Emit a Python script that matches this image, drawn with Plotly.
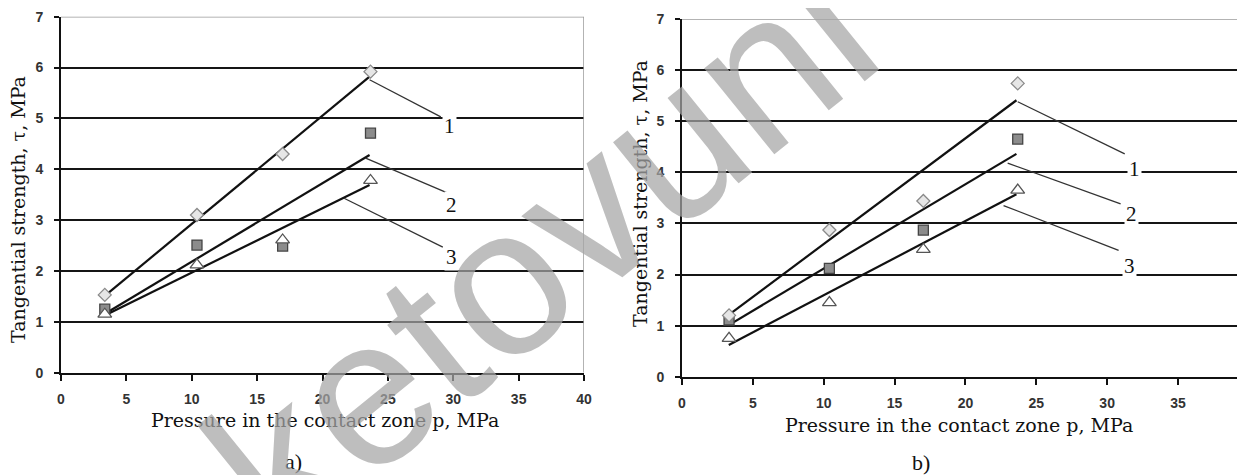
import glob
import plotly.graph_objects as go

W, H = 1245, 475
OFF = 8  # the page body adds an 8 px margin around the figure

# ---------------- data ----------------
# panel a)
a_p = [3.35, 10.4, 16.95, 23.67]
a_tau1 = [1.53, 3.10, 4.30, 5.92]   # diamonds
a_tau2 = [1.25, 2.51, 2.49, 4.71]   # squares
a_tau3 = [1.15, 2.12, 2.61, 3.78]   # triangles
a_fit_x = [3.3, 23.6]
a_fit1 = [1.50, 5.82]
a_fit2 = [1.15, 4.28]
a_fit3 = [1.12, 3.69]

# panel b)
b_p = [3.32, 10.4, 17.03, 23.69]
b_tau1 = [1.20, 2.87, 3.44, 5.74]
b_tau2 = [1.11, 2.12, 2.87, 4.65]
b_tau3 = [0.75, 1.45, 2.49, 3.65]
b_fit_x = [3.3, 23.6]
b_fit1 = [1.21, 5.41]
b_fit2 = [1.01, 4.36]
b_fit3 = [0.62, 3.57]

# curve labels (number, leader start, leader end, label position)
a_labels = ["1", "2", "3"]
a_lead_x0 = [23.6, 23.3, 21.65]
a_lead_y0 = [5.76, 4.22, 3.43]
a_lead_x1 = [29.05, 29.5, 29.2]
a_lead_y1 = [5.03, 3.54, 2.47]
a_lab_x = [29.7, 29.85, 29.85]
a_lab_y = [4.86, 3.3, 2.27]

b_labels = ["1", "2", "3"]
b_lead_x0 = [23.69, 22.98, 22.69]
b_lead_y0 = [5.38, 4.18, 3.35]
b_lead_x1 = [31.24, 30.95, 30.81]
b_lead_y1 = [4.36, 3.38, 2.47]
b_lab_x = [31.95, 31.75, 31.58]
b_lab_y = [4.06, 3.18, 2.17]

y_ticks = [0, 1, 2, 3, 4, 5, 6, 7]
x_ticks = [0, 5, 10, 15, 20, 25, 30, 35, 40]

x_title = "Pressure in the contact zone p, MPa"
y_title = "Tangential strength, \u03c4, MPa"
panel_names = ["a)", "b)"]
watermark = "ketovuni"

SERIF = "Liberation Serif, Times New Roman, serif"
WSERIF = "DejaVu Serif, serif"
SANS = "Liberation Sans, Arial, sans-serif"

# watermark font: a narrow sans if available, otherwise a smaller regular sans
if glob.glob("/usr/share/fonts/**/LiberationSansNarrow*", recursive=True):
    WM_FONT, WM_SIZE = "Liberation Sans Narrow", 250
else:
    WM_FONT, WM_SIZE = "Liberation Sans", 210

fig = go.Figure()

diamond = dict(symbol="diamond", size=10, color="#e6e6e6", line=dict(color="#8a8a8a", width=1.3))
square = dict(symbol="square", size=10, color="#8c8c8c", line=dict(color="#444444", width=1.3))
triangle = dict(symbol="triangle-up", size=12, color="white", line=dict(color="#555555", width=1.3))


def add_panel(xa, ya, px, t1, t2, t3, fx, f1, f2, f3, lx0, ly0, lx1, ly1):
    for fy in (f1, f2, f3):
        fig.add_trace(go.Scatter(x=fx, y=fy, mode="lines", xaxis=xa, yaxis=ya,
                                 line=dict(color="#111111", width=2.2), showlegend=False,
                                 hoverinfo="skip"))
    for i in range(len(lx0)):
        fig.add_trace(go.Scatter(x=[lx0[i], lx1[i]], y=[ly0[i], ly1[i]], mode="lines",
                                 xaxis=xa, yaxis=ya, line=dict(color="#333333", width=1.3),
                                 showlegend=False, hoverinfo="skip"))
    fig.add_trace(go.Scatter(x=px, y=t2, mode="markers", xaxis=xa, yaxis=ya, marker=square, showlegend=False))
    fig.add_trace(go.Scatter(x=px, y=t1, mode="markers", xaxis=xa, yaxis=ya, marker=diamond, showlegend=False))
    fig.add_trace(go.Scatter(x=px, y=t3, mode="markers", xaxis=xa, yaxis=ya, marker=triangle, showlegend=False))


add_panel("x", "y", a_p, a_tau1, a_tau2, a_tau3, a_fit_x, a_fit1, a_fit2, a_fit3,
          a_lead_x0, a_lead_y0, a_lead_x1, a_lead_y1)
add_panel("x2", "y2", b_p, b_tau1, b_tau2, b_tau3, b_fit_x, b_fit1, b_fit2, b_fit3,
          b_lead_x0, b_lead_y0, b_lead_x1, b_lead_y1)


def fx(sx):  # screen x -> paper
    return (sx - OFF) / W


def fy(sy):  # screen y -> paper
    return 1 - (sy - OFF) / H


# screen geometry of the two plot areas
a_x0, a_x1, a_y0, a_y1 = 61, 584, 372.7, 16.7
b_x0, b_x35, b_y0, b_y1 = 682, 1178, 376.7, 19.0
b_xmax = 35 * (W + OFF - b_x0) / (b_x35 - b_x0)

tick_text_x = ["<b>%d</b>" % v for v in x_ticks]
tick_text_y = ["<b>%d</b>" % v for v in y_ticks]
TICKFONT = dict(family=SANS, size=14, color="#333333")


def xaxis_cfg(x0, x1, rng, anchor):
    return dict(domain=[fx(x0), min(fx(x1), 1.0)], range=rng, tickvals=x_ticks, ticktext=tick_text_x,
                showgrid=False, zeroline=False, showline=True, linecolor="#111111", linewidth=2,
                ticks="outside", ticklen=6, tickwidth=2, tickcolor="#111111", anchor=anchor,
                tickfont=TICKFONT, automargin=False, ticklabeloverflow="allow",
                ticklabelstandoff=6, fixedrange=True)


def yaxis_cfg(y0, y1, anchor):
    return dict(domain=[fy(y0), fy(y1)], range=[0, 7], tickvals=y_ticks, ticktext=tick_text_y,
                showgrid=True, gridcolor="#151515", gridwidth=2, zeroline=False,
                showline=True, linecolor="#111111", linewidth=2, anchor=anchor,
                ticks="outside", ticklen=5, tickwidth=2, tickcolor="#111111", automargin=False,
                tickfont=TICKFONT, ticklabelstandoff=8, fixedrange=True)


fig.update_layout(
    template="none",
    width=W, height=H, margin=dict(l=0, r=0, t=0, b=0, autoexpand=False),
    paper_bgcolor="white", plot_bgcolor="white", showlegend=False,
    xaxis=xaxis_cfg(a_x0, a_x1, [0, 40], "y"),
    yaxis=yaxis_cfg(a_y0, a_y1, "x"),
    xaxis2=xaxis_cfg(b_x0, W + OFF, [0, b_xmax], "y2"),
    yaxis2=yaxis_cfg(b_y0, b_y1, "x2"),
)

# grey frame lines (top of both plots, right edge of panel a)
fig.add_shape(type="line", xref="x", yref="y", x0=0, x1=40, y0=7, y1=7,
              line=dict(color="#9a9a9a", width=1.5))
fig.add_shape(type="line", xref="x", yref="y", x0=40, x1=40, y0=0, y1=7,
              line=dict(color="#9a9a9a", width=1.5))
fig.add_shape(type="line", xref="x2", yref="y2", x0=0, x1=b_xmax, y0=7, y1=7,
              line=dict(color="#9a9a9a", width=1.5))

# curve numbers
for labs, lx, ly, xr, yr in ((a_labels, a_lab_x, a_lab_y, "x", "y"),
                             (b_labels, b_lab_x, b_lab_y, "x2", "y2")):
    for t, x, y in zip(labs, lx, ly):
        fig.add_annotation(x=x, y=y, xref=xr, yref=yr, text=t, showarrow=False,
                           xanchor="center", yanchor="middle",
                           font=dict(family=SERIF, size=21, color="#111111"),
                           bgcolor="white", borderpad=1)

# axis titles
for cx, cy in ((325, 420), (959, 425)):
    fig.add_annotation(x=fx(cx), y=fy(cy), xref="paper", yref="paper", text=x_title,
                       showarrow=False, xanchor="center", yanchor="middle",
                       font=dict(family=WSERIF, size=19, color="#111111"))
for cx, cy in ((18, 210), (640, 194)):
    fig.add_annotation(x=fx(cx), y=fy(cy), xref="paper", yref="paper", text=y_title,
                       showarrow=False, textangle=-90, xanchor="center", yanchor="middle",
                       font=dict(family=WSERIF, size=19, color="#111111"))
for name, cx, cy in zip(panel_names, (293, 921), (461, 462)):
    fig.add_annotation(x=fx(cx), y=fy(cy), xref="paper", yref="paper", text=name,
                       showarrow=False, xanchor="center", yanchor="middle",
                       font=dict(family=SERIF, size=22, color="#111111"))

# watermark
fig.add_annotation(x=fx(540), y=fy(250), xref="paper", yref="paper", text=watermark,
                   showarrow=False, textangle=-39, opacity=0.72, xanchor="center", yanchor="middle",
                   font=dict(family=WM_FONT, size=WM_SIZE, color="#a6a6a6"))

fig.write_html("out.html")
